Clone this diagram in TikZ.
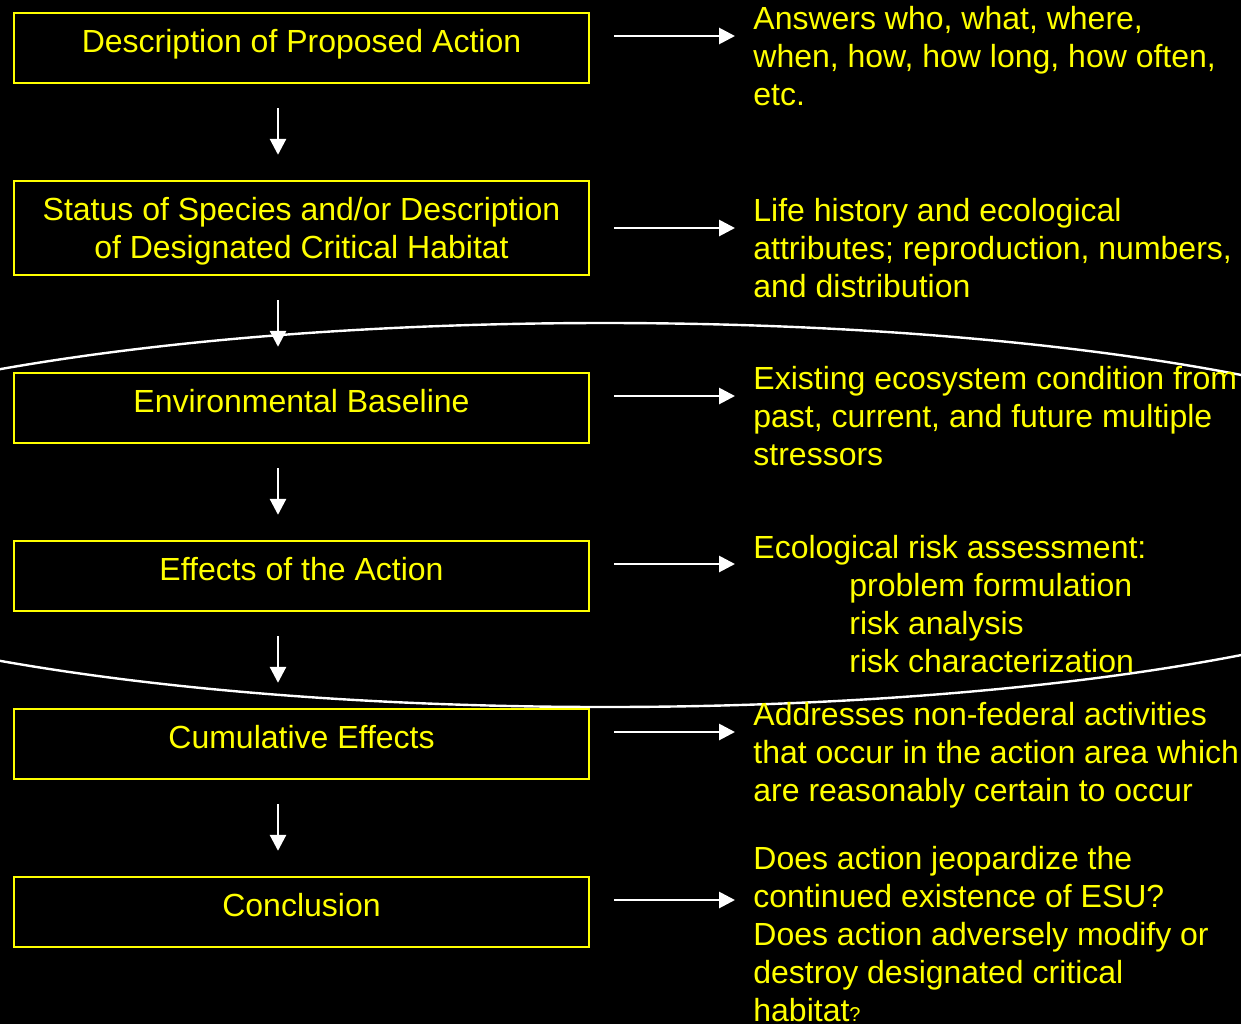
\documentclass[tikz,border=0pt]{standalone}
\usepackage{fontspec}
\setmainfont{Liberation Sans}
\usetikzlibrary{arrows.meta,calc}
\definecolor{ylw}{RGB}{255,255,0}
\begin{document}
\begin{tikzpicture}[x=0.5pt,y=-0.5pt,
  every node/.style={font=\fontsize{16}{19}\selectfont, text=ylw},
  stepbox/.style={draw=ylw, line width=1.2pt, minimum width=287.5pt, inner sep=0pt,
    text height=11pt, text depth=7pt, align=center},
  desc/.style={anchor=base west, align=left, inner sep=0pt},
  arr/.style={draw=white, line width=1.4pt, -{Triangle[length=8pt,width=8pt]}},
  arcline/.style={draw=white, line width=1.2pt}]
\fill[black] (0,0) rectangle (1241,1024);
\useasboundingbox (0,0) rectangle (1241,1024);

% big ellipse
\begin{scope}
  \clip (0,0) rectangle (1241,1024);
  \path[arcline] (605,515) ellipse [x radius=465pt, y radius=96pt];
\end{scope}

% boxes
\node[stepbox, minimum height=35pt] (b1) at (301.5,48) {Description of Proposed Action};
\node[stepbox, minimum height=47pt, text height=37pt] (b2) at (301.5,228) {Status of Species and/or Description\\of Designated Critical Habitat};
\node[stepbox, minimum height=35pt] (b3) at (301.5,408) {Environmental Baseline};
\node[stepbox, minimum height=35pt] (b4) at (301.5,576) {Effects of the Action};
\node[stepbox, minimum height=35pt] (b5) at (301.5,744) {Cumulative Effects};
\node[stepbox, minimum height=35pt] (b6) at (301.5,912) {Conclusion};

% descriptions (anchored at the baseline of their last line)
\node[desc] (t1) at (753,105) {Answers who, what, where,\\when, how, how long, how often,\\etc.};
\node[desc] (t2) at (753,297) {Life history and ecological\\attributes; reproduction, numbers,\\and distribution};
\node[desc] (t3) at (753,465) {Existing ecosystem condition from\\past, current, and future multiple\\stressors};
\node[desc] (t4) at (753,672) {Ecological risk assessment:\\\hspace*{48pt}problem formulation\\\hspace*{48pt}risk analysis\\\hspace*{48pt}risk characterization};
\node[desc] (t5) at (753,801) {Addresses non-federal activities\\that occur in the action area which\\are reasonably certain to occur};
\node[desc] (t6) at (753,1021) {Does action jeopardize the\\continued existence of ESU?\\Does action adversely modify or\\destroy designated critical\\habitat{\fontsize{10}{12}\selectfont ?}};

% down arrows
\draw[arr] ([shift={(-23.5,24)}]b1.south) -- ([shift={(-23.5,-25)}]b2.north);
\draw[arr] ([shift={(-23.5,24)}]b2.south) -- ([shift={(-23.5,-25)}]b3.north);
\draw[arr] ([shift={(-23.5,24)}]b3.south) -- ([shift={(-23.5,-25)}]b4.north);
\draw[arr] ([shift={(-23.5,24)}]b4.south) -- ([shift={(-23.5,-25)}]b5.north);
\draw[arr] ([shift={(-23.5,24)}]b5.south) -- ([shift={(-23.5,-25)}]b6.north);

% right arrows
\coordinate (a1) at ([shift={(24,-12)}]b1.east);
\coordinate (a2) at ([shift={(24,0)}]b2.east);
\coordinate (a3) at ([shift={(24,-12)}]b3.east);
\coordinate (a4) at ([shift={(24,-12)}]b4.east);
\coordinate (a5) at ([shift={(24,-12)}]b5.east);
\coordinate (a6) at ([shift={(24,-12)}]b6.east);
\draw[arr] (a1) -- ($(a1 -| t1.west)+(-18,0)$);
\draw[arr] (a2) -- ($(a2 -| t2.west)+(-18,0)$);
\draw[arr] (a3) -- ($(a3 -| t3.west)+(-18,0)$);
\draw[arr] (a4) -- ($(a4 -| t4.west)+(-18,0)$);
\draw[arr] (a5) -- ($(a5 -| t5.west)+(-18,0)$);
\draw[arr] (a6) -- ($(a6 -| t6.west)+(-18,0)$);
\end{tikzpicture}
\end{document}
